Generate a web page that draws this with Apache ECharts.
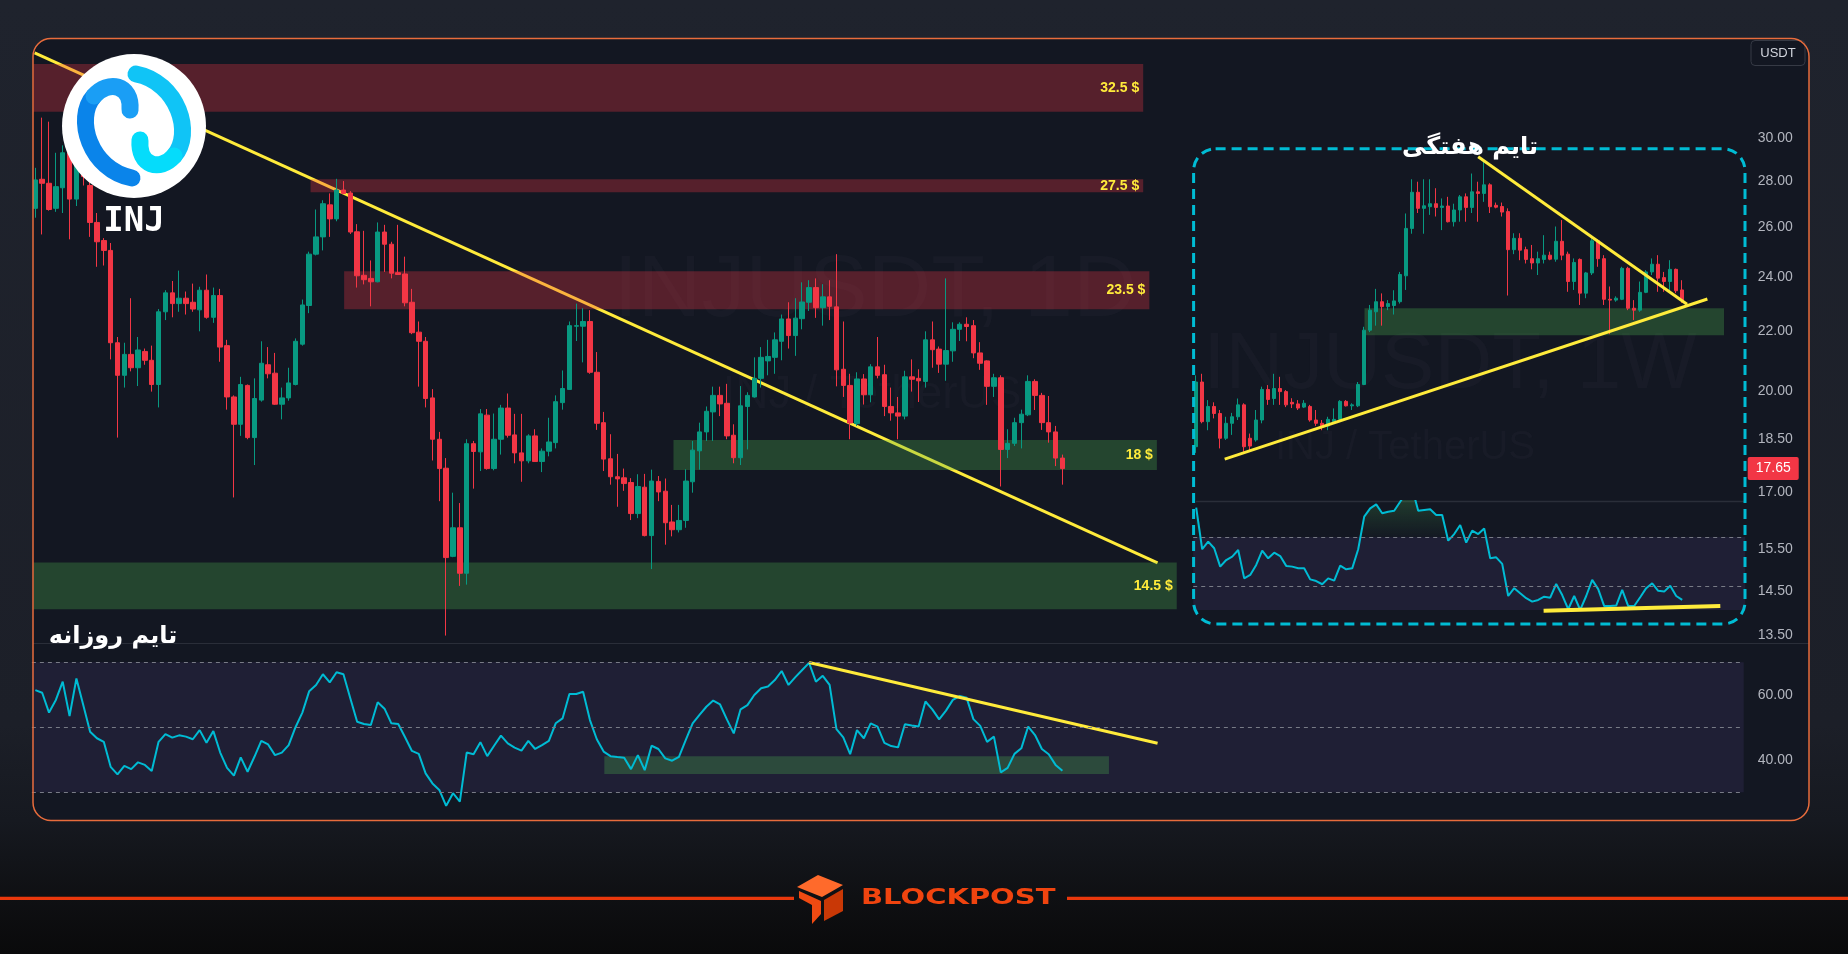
<!DOCTYPE html>
<html lang="fa">
<head>
<meta charset="UTF-8">
<title>INJUSDT 1D / 1W</title>
<script src="https://cdn.jsdelivr.net/npm/echarts@6.0.0/dist/echarts.min.js"></script>
<style>
  html, body { margin: 0; padding: 0; }
  body {
    width: 1848px; height: 954px; overflow: hidden; position: relative;
    background: linear-gradient(to bottom, #1f232d 0%, #1c1f28 76%, #161920 86%, #0f1013 94%, #0a0a0b 100%);
  }
  #frame { position: absolute; left: 33px; top: 38.5px; width: 1776px; height: 782px; border-radius: 18px; background: #131722; }
  #chart { position: absolute; left: 0; top: 0; width: 1848px; height: 954px; }
</style>
</head>
<body>
<div id="frame"></div>
<div id="chart"></div>
<script>
// daily INJUSDT candles (USDT)
var dailyOpen = [26.8,28.08,27.9,26.8,27.7,29.3,27.2,28.7,27.8,26.2,25.45,25.05,21.6,20.5,21.2,20.75,21.3,21.0,20.2,22.7,
  23.4,23.0,23.2,23.05,22.77,23.5,22.5,23.3,21.5,19.8,18.95,20.17,18.55,19.7,20.85,20.57,19.57,19.77,20.2,21.55,
  22.93,24.9,25.6,26.95,26.35,27.6,27.47,25.81,24.07,23.95,23.82,25.8,25.3,24.17,24.12,23.05,21.97,21.65,19.77,18.5,
  17.66,15.33,16.05,14.92,18.37,18.13,19.23,17.65,18.5,19.45,18.63,18.1,17.87,18.6,17.85,18.15,18.4,19.62,20.04,22.18,
  22.18,22.35,20.6,19.0,17.93,17.42,17.39,17.26,16.42,17.13,15.85,17.29,17.02,16.2,16.0,16.24,17.28,18.16,18.72,19.33,
  19.85,19.6,18.62,17.96,19.5,19.8,20.4,20.98,21.1,21.65,22.44,21.85,22.45,23.05,23.6,22.85,23.25,22.88,20.7,20.17,
  18.97,20.38,19.87,20.78,20.52,19.5,19.3,19.2,20.45,20.4,20.3,21.7,21.38,20.87,21.32,22.07,22.25,22.2,21.25,20.98,
  20.14,20.42,18.2,18.38,19.0,19.24,20.3,19.85,19.0,18.72,17.95];
var dailyClose = [28.05,27.9,26.75,27.75,29.3,27.2,28.7,28.2,26.2,25.4,25.05,21.6,20.5,21.2,20.75,21.35,21.0,20.2,22.7,23.4,
  23.0,23.2,23.0,22.8,23.5,22.5,23.3,21.45,19.8,18.95,20.2,18.55,19.75,20.9,20.55,19.57,19.77,20.25,21.65,22.95,
  24.9,25.6,27.0,26.35,27.6,27.45,25.8,24.05,23.9,23.82,25.8,25.3,24.15,24.1,23.03,21.95,21.65,19.75,18.5,17.65,
  15.3,16.05,14.92,18.37,18.14,19.27,17.65,18.5,19.45,18.62,18.1,17.87,18.6,17.85,18.15,18.42,19.65,20.07,22.2,22.2,
  22.35,20.6,18.98,17.92,17.42,17.36,17.23,16.42,17.15,15.85,17.3,17.0,16.18,16.0,16.24,17.3,18.18,18.72,19.35,19.85,
  19.58,18.6,17.96,19.52,19.85,20.4,21.1,21.13,21.7,22.44,21.85,22.47,23.06,23.6,22.85,23.25,22.9,20.68,20.17,18.99,
  20.38,19.87,20.78,20.5,19.5,19.3,19.2,20.45,20.37,20.32,21.7,21.36,20.87,21.33,22.07,22.25,22.17,21.25,20.9,20.14,
  20.42,18.2,18.38,19.0,19.26,20.3,19.85,19.0,18.72,17.95,17.65];
var dailyLow = [26.4,25.7,26.7,26.65,26.6,25.5,26.9,27.8,25.6,24.4,24.45,21.03,18.55,20.1,20.63,20.15,20.85,19.97,19.47,22.4,
  22.5,22.7,22.6,22.7,22.0,22.45,22.3,20.95,19.4,16.85,18.6,18.5,17.75,19.65,20.4,19.55,19.1,19.68,20.17,21.5,
  22.65,24.85,25.05,25.6,26.25,27.42,25.72,23.6,23.72,22.9,23.8,24.2,23.95,24.08,22.9,21.9,20.13,19.47,17.88,16.75,
  13.5,15.31,14.62,14.65,17.09,17.58,17.62,17.6,18.05,18.55,17.8,17.28,17.8,17.84,17.55,18.0,18.23,19.4,20.03,21.66,
  20.93,20.55,18.78,17.58,17.2,16.6,17.03,16.25,16.3,15.83,15.02,16.75,15.62,15.83,15.93,16.05,16.98,17.62,18.45,18.45,
  19.2,18.5,17.8,17.75,18.2,19.78,20.1,20.5,20.55,21.0,21.4,21.15,22.07,22.73,22.48,22.2,22.4,20.14,19.8,18.5,
  18.9,19.56,19.63,20.4,19.2,19.06,18.5,19.1,19.97,19.64,20.1,20.75,20.58,20.32,20.95,21.66,21.65,21.07,20.68,19.55,
  19.8,17.15,17.95,18.3,18.23,19.2,19.39,18.78,18.4,17.72,17.2];
var dailyHigh = [28.6,31.0,30.8,29.3,29.65,29.9,29.0,29.5,28.1,26.6,25.55,25.35,21.8,21.6,23.2,21.8,21.4,21.5,22.8,23.5,
  23.85,24.25,23.45,23.75,23.63,24.1,23.6,23.55,21.7,19.85,20.45,20.2,20.4,21.65,21.45,21.25,20.1,20.75,21.75,23.15,
  25.0,26.75,27.15,27.45,28.1,28.0,27.55,26.13,25.85,24.65,26.2,26.1,25.4,26.1,24.8,23.55,22.35,21.8,20.05,18.72,
  17.95,16.98,16.7,18.5,18.45,19.42,19.42,19.28,19.55,19.91,19.27,19.27,18.65,18.8,18.23,19.15,19.85,20.66,22.35,23.0,
  22.83,22.76,21.28,19.33,18.65,18.07,17.65,17.38,17.49,17.5,17.62,17.44,17.37,16.65,16.65,17.63,18.45,19.0,19.5,20.13,
  20.13,20.22,18.95,20.15,19.95,21.1,21.45,21.7,21.96,22.6,23.05,23.2,23.8,23.88,23.95,23.73,23.88,24.9,22.35,20.55,
  20.6,20.54,20.87,21.8,20.85,20.1,19.8,20.65,21.03,20.7,22.0,22.35,21.47,23.95,22.32,22.32,22.5,22.4,21.62,21.0,
  20.55,20.5,18.8,19.15,19.4,20.5,20.37,19.93,19.83,18.9,18.05];
var dailyRsi = [61.4,60.6,54.5,58.4,64.0,53.4,65.0,56.8,48.6,46.6,45.5,37.8,35.5,38.1,37.1,39.2,38.4,36.5,45.5,47.9,
  46.8,47.5,47.1,46.3,49.1,45.2,48.8,42.2,37.5,35.1,40.7,36.3,40.9,45.8,44.7,41.4,42.2,44.5,50.0,54.5,
  61.1,63.0,66.3,63.8,66.9,66.3,58.9,51.7,51.0,50.7,57.7,55.7,51.2,51.0,46.9,42.7,41.8,35.8,32.7,30.7,
  25.8,29.7,27.1,42.2,41.7,45.4,41.1,44.3,47.4,45.0,43.7,42.8,45.8,43.3,44.5,45.8,51.2,52.7,60.2,60.2,
  60.9,52.2,46.3,42.5,41.1,40.8,40.6,37.1,41.4,36.8,44.3,43.3,40.4,39.7,40.9,46.1,51.2,53.8,56.3,58.2,
  57.0,52.4,48.1,55.5,56.8,59.9,62.0,62.5,64.5,67.3,63.0,65.4,67.6,69.8,64.0,65.8,63.0,49.4,46.9,41.7,
  49.1,46.6,51.2,50.2,45.2,44.2,43.8,50.9,50.5,50.2,57.9,55.5,52.4,55.1,58.4,59.6,59.1,52.5,50.4,45.5,
  47.1,36.1,37.5,41.8,43.5,50.2,47.6,43.3,41.7,38.4,36.6];

// weekly inset candles and RSI
var weeklyOpen = [18.28,20.28,19.03,19.5,19.28,18.53,18.98,19.18,19.55,18.53,18.48,19.08,20.04,19.75,20.07,19.97,19.63,19.58,19.48,19.5,
  19.08,18.98,18.9,19.03,19.1,19.66,19.52,19.52,20.2,22.04,22.7,23.07,22.89,22.93,23.07,24.05,25.95,27.5,26.8,26.87,
  27.0,26.84,26.9,26.23,26.73,27.3,26.84,27.52,27.45,27.83,26.93,26.88,26.66,25.08,25.54,25.08,24.72,24.55,24.69,24.86,
  24.7,25.42,24.9,23.83,24.69,23.39,24.16,25.44,24.72,23.16,23.13,23.16,24.34,22.83,22.76,23.42,24.2,24.5,23.98,23.83,
  24.3,23.51];
var weeklyClose = [20.28,19.03,19.5,19.28,18.53,18.98,19.18,19.55,18.28,18.3,19.08,20.04,19.72,20.07,19.97,19.55,19.58,19.45,19.6,19.08,
  18.98,18.9,19.1,19.1,19.66,19.52,19.55,20.2,22.04,22.76,23.07,22.89,23.0,23.1,24.1,25.95,27.5,26.8,26.91,27.0,
  26.84,26.9,26.23,26.73,27.3,26.84,27.52,27.45,27.83,26.87,26.85,26.64,25.08,25.54,25.06,24.69,24.55,24.72,24.86,24.7,
  25.42,24.86,23.83,24.57,23.39,24.16,25.44,24.72,23.16,23.13,23.2,24.34,22.83,22.76,23.42,24.2,24.5,23.96,23.83,24.3,
  23.48,23.13];
var weeklyLow = [18.1,18.98,18.77,19.13,18.23,18.48,18.63,19.08,18.13,18.18,18.43,18.98,19.55,19.55,19.55,19.48,19.45,19.39,19.45,19.03,
  18.9,18.77,18.77,18.98,19.03,19.5,19.39,19.48,20.18,21.97,22.2,22.2,22.76,22.6,23.0,23.51,25.73,26.6,25.73,26.52,
  26.45,25.88,26.2,26.03,26.23,26.23,26.6,26.23,27.08,26.6,26.8,26.45,23.3,24.9,24.66,24.53,24.3,24.08,24.53,24.66,
  24.6,24.66,23.44,23.51,22.95,23.2,24.08,24.4,22.95,21.9,23.07,23.13,22.76,22.4,22.7,23.39,24.08,23.44,23.44,23.39,
  23.39,23.03];
var weeklyHigh = [20.5,20.55,19.7,19.63,19.39,19.18,19.3,19.75,19.6,18.67,19.39,20.13,20.18,20.55,20.45,20.02,19.76,19.7,19.7,19.55,
  19.39,19.08,19.18,19.44,19.7,19.7,19.6,20.28,22.16,22.95,23.55,23.38,23.13,23.5,24.2,26.58,28.08,27.97,28.08,28.08,
  27.68,27.23,27.3,27.0,27.38,27.45,28.34,27.97,28.96,27.9,27.05,27.05,26.8,25.75,25.75,25.2,25.27,25.0,25.67,25.0,
  26.03,26.3,25.0,24.73,24.73,24.2,25.54,25.5,24.86,23.64,23.27,24.4,24.4,23.13,23.83,24.27,24.73,24.86,24.2,24.66,
  24.33,23.88];
var weeklyRsi = [82,65.0,68.1,65.4,57.9,60.6,62.0,64.7,53.1,54.5,58.6,64.4,61.3,63.6,62.2,58.2,57.9,57.2,57.2,52.7,
  52.0,50.7,53.1,52.2,58.3,56.8,57.2,65.0,78.3,81.7,83.3,79.7,80.3,80.7,84.4,88,90,80.7,81.0,81.3,
  79.0,79.0,68.5,71.2,74.9,67.7,72.6,71.2,73.5,61.3,61.7,59.0,45.9,49.1,47.0,45.0,43.6,44.3,45.6,45.2,
  50.8,46.3,40.5,45.9,40.2,45.9,52.5,48.7,41.8,41.8,42.0,48.4,41.8,41.8,45.4,49.1,51.1,48.0,47.7,50.1,
  45.9,44.3];

var priceTicks = [13.5, 14.5, 15.5, 17, 18.5, 20, 22, 24, 26, 28, 30];
var rsiTicks = [40, 60];
var rsiLevels = [70, 50, 30];
var lastPrice = 17.65;

// supply / demand zones on the daily chart (price bounds, bar index span)
var zoneLabels = ['32.5 $', '27.5 $', '23.5 $', '18 $', '14.5 $'];
var zoneTop = [33.78, 28.08, 24.23, 18.48, 15.18];
var zoneBottom = [31.29, 27.5, 22.79, 17.61, 14.08];
var zoneFrom = [-0.3, 40.2, 45.1, 93.2, -0.3];
var zoneTo = [161.8, 161.8, 162.7, 163.8, 166.7];
var zoneSide = ['sell', 'sell', 'sell', 'buy', 'buy'];

// drawn trendlines: [bar index, value]
var dailyTrend = [[-0.1, 34.4], [163.9, 15.17]];
var dailyRsiTrend = [[113, 69.9], [163.9, 45.05]];
var dailyRsiBox = [[83.1, 41.1], [156.8, 35.6]];
var weeklyTrendHigh = [[47.0, 29.11], [81.8, 22.98]];
var weeklyTrendLow = [[4.75, 17.92], [85.2, 23.17]];
var weeklyZone = [[28.05, 22.83], [87.97, 21.86]];
var weeklyRsiTrend = [[57.9, 39.9], [87.35, 41.85]];

var DAY_SLOTS = 250;
var WEEK_SLOTS = 92;

var chart = echarts.init(document.getElementById('chart'));

var UP = '#089981', DOWN = '#f23645', YELLOW = '#ffeb3b', RSI = '#00bcd4';

function slots(n, p) {
  var a = [];
  for (var i = 0; i < n; i++) a.push(p + (i + 1));
  return a;
}
function catAxis(grid, n, p) {
  return { type: 'category', gridIndex: grid, data: slots(n, p), boundaryGap: true, show: false };
}
function idxAxis(grid, n) {
  return { type: 'value', gridIndex: grid, min: -0.5, max: n - 0.5, show: false };
}
var axisLabelStyle = { color: '#b2b5be', fontSize: 14, margin: 14, fontFamily: 'Liberation Sans' };

var dailyCandles = dailyOpen.map(function (o, i) { return [o, dailyClose[i], dailyLow[i], dailyHigh[i]]; });
var weeklyCandles = weeklyOpen.map(function (o, i) { return [o, weeklyClose[i], weeklyLow[i], weeklyHigh[i]]; });

var candleStyle = { color: UP, color0: DOWN, borderColor: UP, borderColor0: DOWN, borderWidth: 1 };
var dashed = { color: '#787b86', type: [4, 4], width: 1 };

var zoneAreas = zoneLabels.map(function (name, i) {
  var c = zoneSide[i] === 'sell' ? 'rgba(242,54,69,0.3)' : 'rgba(76,175,80,0.3)';
  return [{ name: name, xAxis: zoneFrom[i], yAxis: zoneTop[i], itemStyle: { color: c } },
          { xAxis: zoneTo[i], yAxis: zoneBottom[i] }];
});

function curve(p, color) {
  return { type: 'bezierCurve', z: 61, silent: true,
    shape: { x1: p[0], y1: p[1], cpx1: p[2], cpy1: p[3], cpx2: p[4], cpy2: p[5], x2: p[6], y2: p[7] },
    style: { fill: 'none', stroke: color, lineWidth: 17, lineCap: 'round' } };
}

var option = {
  animation: false,
  textStyle: { fontFamily: 'Liberation Sans' },
  grid: [
    { left: 31.9, top: 39, width: 1711.8, height: 604 },
    { left: 31.9, top: 643, width: 1711.8, height: 177 },
    { left: 1193.2, top: 39, width: 552, height: 604 },
    { left: 1193.2, top: 501, width: 552, height: 119 }
  ],
  xAxis: [
    catAxis(0, DAY_SLOTS, 'D'), idxAxis(0, DAY_SLOTS),
    catAxis(1, DAY_SLOTS, 'D'), idxAxis(1, DAY_SLOTS),
    catAxis(2, WEEK_SLOTS, 'W'), idxAxis(2, WEEK_SLOTS),
    catAxis(3, WEEK_SLOTS, 'W'), idxAxis(3, WEEK_SLOTS)
  ],
  yAxis: [
    { type: 'log', gridIndex: 0, min: 13.34, max: 35.17, position: 'right',
      axisLine: { show: false }, axisTick: { show: false }, splitLine: { show: false },
      axisLabel: Object.assign({ customValues: priceTicks, formatter: function (v) { return (+v).toFixed(2); } }, axisLabelStyle) },
    { type: 'value', gridIndex: 1, min: 21.45, max: 75.91, position: 'right',
      axisLine: { show: false }, axisTick: { show: false }, splitLine: { show: false },
      axisLabel: Object.assign({ customValues: rsiTicks, formatter: function (v) { return (+v).toFixed(2); } }, axisLabelStyle) },
    { type: 'log', gridIndex: 2, min: 13.34, max: 35.17, show: false },
    { type: 'value', gridIndex: 3, min: 36.1, max: 84.7, show: false }
  ],
  series: [
    // daily price pane
    { type: 'line', xAxisIndex: 1, yAxisIndex: 0, data: dailyTrend, symbol: 'none', z: 0, silent: true,
      lineStyle: { color: YELLOW, width: 3 } },
    { type: 'line', xAxisIndex: 1, yAxisIndex: 0, data: [], silent: true, z: 1,
      markArea: { silent: true, z: 1, data: zoneAreas,
        label: { show: true, position: 'insideRight', distance: 4, formatter: '{b}', color: YELLOW, fontSize: 14, fontWeight: 'bold' } } },
    { type: 'candlestick', xAxisIndex: 0, yAxisIndex: 0, data: dailyCandles, barWidth: 5, z: 3, silent: true,
      itemStyle: candleStyle,
      markLine: { silent: true, z: 10, symbol: ['none', 'none'], data: [{ yAxis: lastPrice }],
        lineStyle: { color: 'rgba(0,0,0,0)', width: 1, type: 'solid' },
        label: { show: true, position: 'end', distance: 4, formatter: lastPrice.toFixed(2), color: '#ffffff',
          backgroundColor: DOWN, padding: [5, 8, 4, 8], fontSize: 14, borderRadius: 2, opacity: 1 } } },

    // daily RSI pane
    { type: 'line', xAxisIndex: 3, yAxisIndex: 1, data: [], silent: true, z: 1,
      markArea: { silent: true, z: 1, itemStyle: { color: 'rgba(76,175,80,0.3)' },
        data: [[{ xAxis: dailyRsiBox[0][0], yAxis: dailyRsiBox[0][1] }, { xAxis: dailyRsiBox[1][0], yAxis: dailyRsiBox[1][1] }]] } },
    { type: 'line', xAxisIndex: 2, yAxisIndex: 1, data: dailyRsi, symbol: 'none', z: 3, silent: true,
      lineStyle: { color: RSI, width: 2 },
      markArea: { silent: true, z: 0, itemStyle: { color: 'rgba(126,87,194,0.12)' }, data: [[{ yAxis: 70 }, { yAxis: 30 }]] },
      markLine: { silent: true, symbol: ['none', 'none'], lineStyle: dashed, label: { show: false },
        data: rsiLevels.map(function (v) { return { yAxis: v }; }) } },
    { type: 'line', xAxisIndex: 3, yAxisIndex: 1, data: dailyRsiTrend, symbol: 'none', z: 4, silent: true,
      lineStyle: { color: YELLOW, width: 3 } },

    // weekly inset price
    { type: 'line', xAxisIndex: 5, yAxisIndex: 2, data: [], silent: true, z: 1,
      markArea: { silent: true, z: 1, itemStyle: { color: 'rgba(76,175,80,0.3)' },
        data: [[{ xAxis: weeklyZone[0][0], yAxis: weeklyZone[0][1] }, { xAxis: weeklyZone[1][0], yAxis: weeklyZone[1][1] }]] } },
    { type: 'candlestick', xAxisIndex: 4, yAxisIndex: 2, data: weeklyCandles, barWidth: 4, z: 3, silent: true,
      itemStyle: candleStyle },
    { type: 'line', xAxisIndex: 5, yAxisIndex: 2, data: weeklyTrendHigh, symbol: 'none', z: 4, silent: true,
      lineStyle: { color: YELLOW, width: 3 } },
    { type: 'line', xAxisIndex: 5, yAxisIndex: 2, data: weeklyTrendLow, symbol: 'none', z: 4, silent: true,
      lineStyle: { color: YELLOW, width: 3 } },

    // weekly inset RSI
    { type: 'line', xAxisIndex: 6, yAxisIndex: 3, silent: true, z: 1, symbol: 'none',
      data: weeklyRsi.map(function (v) { return Math.max(v, 70); }),
      lineStyle: { opacity: 0 },
      areaStyle: { origin: 70, color: new echarts.graphic.LinearGradient(0, 0, 0, 1, [
        { offset: 0, color: 'rgba(76,175,80,0.45)' }, { offset: 1, color: 'rgba(76,175,80,0.02)' }]) } },
    { type: 'line', xAxisIndex: 6, yAxisIndex: 3, data: weeklyRsi, symbol: 'none', z: 3, silent: true,
      lineStyle: { color: RSI, width: 2 },
      markArea: { silent: true, z: 0, itemStyle: { color: 'rgba(126,87,194,0.12)' }, data: [[{ yAxis: 70 }, { yAxis: 'min' }]] },
      markLine: { silent: true, symbol: ['none', 'none'], lineStyle: dashed, label: { show: false },
        data: [{ yAxis: 70 }, { yAxis: 50 }] } },
    { type: 'line', xAxisIndex: 7, yAxisIndex: 3, data: weeklyRsiTrend, symbol: 'none', z: 4, silent: true,
      lineStyle: { color: YELLOW, width: 4 } }
  ],
  graphic: [
    // faint symbol watermarks
    { type: 'text', x: 875, y: 292, z: -5, silent: true,
      style: { text: 'INJUSDT, 1D', font: '88px "Liberation Sans"', fill: 'rgba(120,123,134,0.05)', align: 'center', verticalAlign: 'middle' } },
    { type: 'text', x: 872, y: 395, z: -5, silent: true,
      style: { text: 'INJ / TetherUS', font: '46px "Liberation Sans"', fill: 'rgba(120,123,134,0.05)', align: 'center', verticalAlign: 'middle' } },
    { type: 'text', x: 1450, y: 366, z: -5, silent: true,
      style: { text: 'INJUSDT, 1W', font: '80px "Liberation Sans"', fill: 'rgba(120,123,134,0.05)', align: 'center', verticalAlign: 'middle' } },
    { type: 'text', x: 1405, y: 448, z: -5, silent: true,
      style: { text: 'INJ / TetherUS', font: '40px "Liberation Sans"', fill: 'rgba(120,123,134,0.05)', align: 'center', verticalAlign: 'middle' } },

    // pane separators
    { type: 'line', z: 1, silent: true, shape: { x1: 33, y1: 643.5, x2: 1809, y2: 643.5 }, style: { stroke: '#2a2e39', lineWidth: 1 } },
    { type: 'line', z: 1, silent: true, shape: { x1: 1196, y1: 501.5, x2: 1744, y2: 501.5 }, style: { stroke: '#2a2e39', lineWidth: 1.5 } },

    // inset box
    { type: 'rect', z: 40, silent: true, shape: { x: 1193.6, y: 148.7, width: 551.4, height: 475.3, r: 22 },
      style: { fill: 'none', stroke: '#00bcd4', lineWidth: 3, lineDash: [10, 6] } },

    // outer frame
    { type: 'rect', z: 90, silent: true, shape: { x: 33, y: 38.5, width: 1776, height: 782, r: 18 },
      style: { fill: 'none', stroke: '#e86c3c', lineWidth: 1.5 } },

    // titles
    { type: 'text', x: 1470, y: 148, z: 70, silent: true,
      style: { text: 'تایم هفتگی', font: 'bold 24px "DejaVu Sans"', fill: '#ffffff', align: 'center', verticalAlign: 'middle' } },
    { type: 'text', x: 113, y: 637, z: 70, silent: true,
      style: { text: 'تایم روزانه', font: 'bold 24px "DejaVu Sans"', fill: '#ffffff', align: 'center', verticalAlign: 'middle' } },

    // USDT currency box
    { type: 'rect', z: 70, silent: true, shape: { x: 1751, y: 40.5, width: 54, height: 25, r: 4 },
      style: { fill: '#131722', stroke: '#363a45', lineWidth: 1 } },
    { type: 'text', x: 1778, y: 53, z: 71, silent: true,
      style: { text: 'USDT', font: '13px "Liberation Sans"', fill: '#d1d4dc', align: 'center', verticalAlign: 'middle' } },

    // INJ logo
    { type: 'circle', z: 60, silent: true, shape: { cx: 134, cy: 126, r: 72 }, style: { fill: '#ffffff' } },
    curve([132, 178, 90, 170, 74, 118, 94, 96], '#0a84ea'),
    curve([94, 96, 108, 80, 132, 84, 130, 110], '#1a9ef5'),
    curve([136, 74, 178, 82, 194, 134, 174, 156], '#10c4f6'),
    curve([174, 156, 160, 172, 138, 166, 140, 140], '#05dcfb'),
    { type: 'text', x: 134, y: 222, z: 61, silent: true,
      style: { text: 'INJ', font: 'bold 34px "DejaVu Sans Mono"', fill: '#ffffff', align: 'center', verticalAlign: 'middle' } },

    // footer brand
    { type: 'rect', z: 5, silent: true, shape: { x: 0, y: 896.7, width: 794, height: 3.3 }, style: { fill: '#ea380c' } },
    { type: 'rect', z: 5, silent: true, shape: { x: 1067, y: 896.7, width: 781, height: 3.3 }, style: { fill: '#ea380c' } },
    { type: 'polygon', z: 6, silent: true, shape: { points: [[797, 887], [818, 875], [843, 885], [822, 897]] }, style: { fill: '#ff6a2b' } },
    { type: 'polygon', z: 6, silent: true, shape: { points: [[799, 891], [821, 901], [821, 914], [812, 924], [812, 905], [799, 898]] }, style: { fill: '#f04a12' } },
    { type: 'polygon', z: 6, silent: true, shape: { points: [[824, 900], [843, 889], [843, 911], [824, 921]] }, style: { fill: '#c93806' } },
    { type: 'text', x: 861, y: 899, z: 6, silent: true, scaleX: 1.38,
      style: { text: 'BLOCKPOST', font: 'bold 21px "DejaVu Sans"', fill: '#f0440f', align: 'left', verticalAlign: 'middle' } }
  ]
};

chart.setOption(option);
</script>
</body>
</html>
